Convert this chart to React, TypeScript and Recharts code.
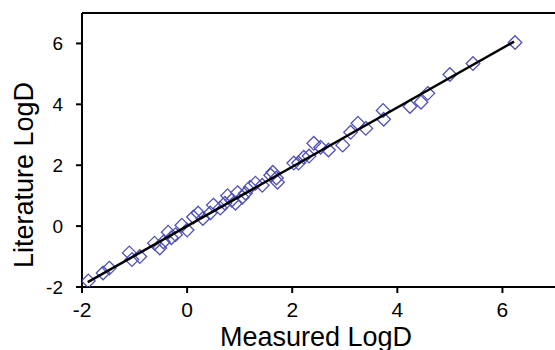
import React from "react";
import { ComposedChart, Scatter, XAxis, YAxis, ReferenceLine, Label } from "recharts";

const measured = [
  -1.88, -1.6, -1.48, -1.1, -1.05, -0.9, -0.62, -0.52, -0.45, -0.36, -0.3, -0.22, -0.1, 0.0, 0.12,
  0.21, 0.3, 0.44, 0.5, 0.63, 0.72, 0.77, 0.85, 0.92, 0.96, 1.05, 1.11, 1.2, 1.3, 1.43, 1.59, 1.63,
  1.7, 1.72, 2.03, 2.12, 2.22, 2.32, 2.41, 2.54, 2.69, 2.96, 3.11, 3.25, 3.4, 3.73, 3.74, 4.24, 4.45,
  4.58, 5.0, 5.44, 6.24,
];
const literature = [
  -1.8, -1.54, -1.38, -0.88, -1.1, -1.0, -0.56, -0.72, -0.52, -0.2, -0.38, -0.28, 0.03, -0.13, 0.3,
  0.43, 0.25, 0.43, 0.69, 0.59, 0.75, 1.0, 0.85, 0.75, 1.1, 0.95, 1.08, 1.28, 1.41, 1.34, 1.67, 1.77,
  1.58, 1.44, 2.07, 2.07, 2.26, 2.3, 2.72, 2.59, 2.5, 2.66, 3.08, 3.38, 3.21, 3.8, 3.51, 3.93, 4.07,
  4.36, 4.98, 5.34, 6.03,
];
const fitX = [-1.89, 6.22];
const fitY = [-1.84, 6.06];
const xTicks = [-2, 0, 2, 4, 6];
const yTicks = [-2, 0, 2, 4, 6];

const points = measured.map((x, i) => ({ x, y: literature[i] }));
const fit = fitX.map((x, i) => ({ x, y: fitY[i] }));

const FONT = "Arial, 'Liberation Sans', sans-serif";

const Diamond = (props: any) => {
  const { cx, cy } = props;
  if (cx == null || cy == null) return null;
  const r = 6.8;
  return (
    <polygon
      points={`${cx},${cy - r} ${cx + r},${cy} ${cx},${cy + r} ${cx - r},${cy}`}
      fill="none"
      stroke="#5050b8"
      strokeWidth={1.3}
    />
  );
};

const NoShape = () => null;

const YTitle = () => {
  const x = 33;
  const y = 175;
  return (
    <text
      x={x}
      y={y}
      transform={`rotate(-90, ${x}, ${y})`}
      textAnchor="middle"
      fontFamily={FONT}
      fontSize={27}
      fill="#000"
    >
      Literature LogD
    </text>
  );
};

const XTitle = () => (
  <text x={316} y={346} textAnchor="middle" fontFamily={FONT} fontSize={27} fill="#000">
    Measured LogD
  </text>
);

export default function App() {
  return (
    <div style={{ position: "absolute", left: 0, top: 0, background: "#fff" }}>
      <ComposedChart
        width={555}
        height={350}
        margin={{ top: 13, right: 0, bottom: 0, left: 0 }}
        style={{ fontFamily: FONT }}
      >
        <XAxis
          type="number"
          dataKey="x"
          domain={[-2, 7]}
          ticks={xTicks}
          height={63}
          allowDataOverflow
          stroke="#000"
          strokeWidth={2}
          tickSize={6}
          tickMargin={9}
          tick={{ fill: "#000", fontSize: 21 }}
          tickLine={{ stroke: "#000", strokeWidth: 2 }}
        >
          <Label content={<XTitle />} />
        </XAxis>
        <YAxis
          type="number"
          dataKey="y"
          domain={[-2, 7]}
          ticks={yTicks}
          width={82}
          allowDataOverflow
          stroke="#000"
          strokeWidth={2}
          tickSize={6}
          tickMargin={13}
          tick={{ fill: "#000", fontSize: 19 }}
          tickLine={{ stroke: "#000", strokeWidth: 2 }}
        >
          <Label content={<YTitle />} />
        </YAxis>
        <ReferenceLine y={7} stroke="#000" strokeWidth={2} />
        <Scatter data={points} shape={<Diamond />} isAnimationActive={false} />
        <Scatter
          data={fit}
          line={{ stroke: "#000", strokeWidth: 2.5 }}
          shape={<NoShape />}
          isAnimationActive={false}
        />
      </ComposedChart>
    </div>
  );
}
